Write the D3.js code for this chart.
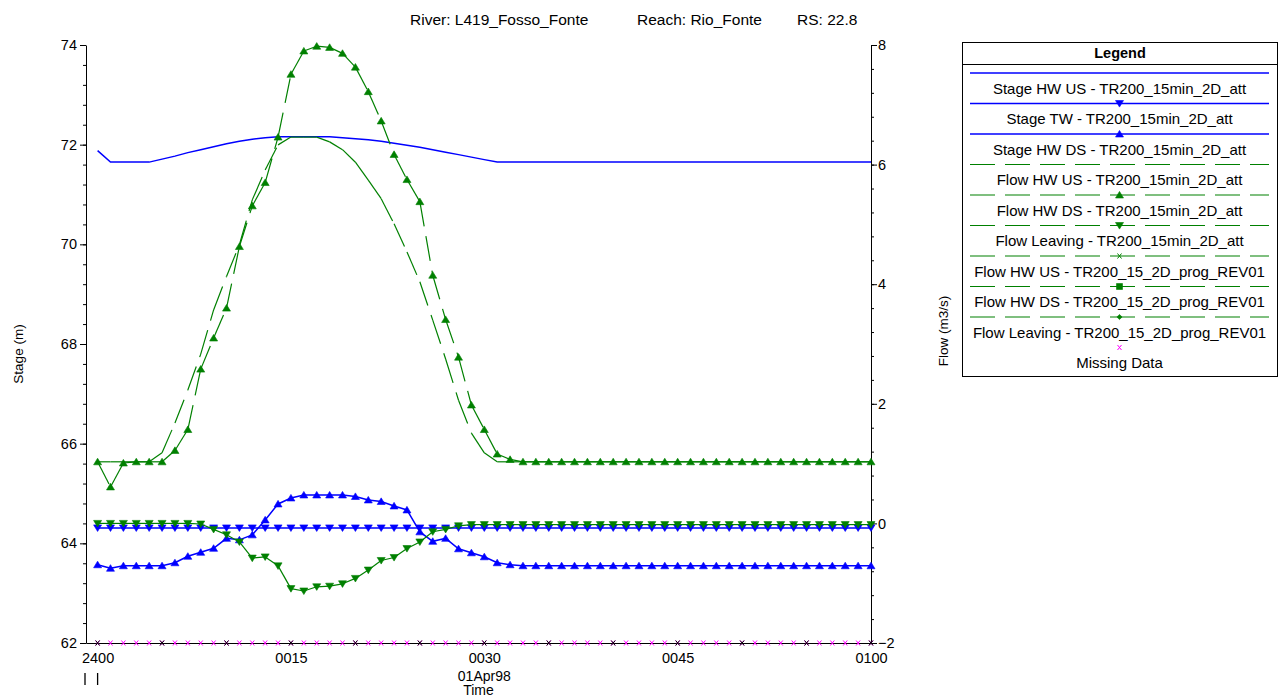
<!DOCTYPE html>
<html><head><meta charset="utf-8">
<script src="https://cdn.jsdelivr.net/npm/d3@7"></script>
<style>
body{margin:0;background:#fff}
svg text{font-family:"Liberation Sans", Arial, sans-serif;fill:#000}
</style>
</head><body>
<svg id="c" width="1282" height="698"></svg>
<script>
// ---------------- DATA ----------------
const minutes = [
  0,1,2,3,4,5,6,7,8,9,
  10,11,12,13,14,15,16,17,18,19,
  20,21,22,23,24,25,26,27,28,29,
  30,31,32,33,34,35,36,37,38,39,
  40,41,42,43,44,45,46,47,48,49,
  50,51,52,53,54,55,56,57,58,59,
  60];
const timeTicks = [0,15,30,45,60];
const timeTickLabels = ["2400","0015","0030","0045","0100"];
const timeMinorTicks = [0,5,10,15,20,25,30,35,40,45,50,55,60];
const stageTicks = [62,64,66,68,70,72,74];
const flowTicks = [-2,0,2,4,6,8];

const stageHWUS = [
  71.88,71.65,71.65,71.65,71.65,71.71,71.77,71.84,71.90,71.96,
  72.02,72.07,72.11,72.14,72.16,72.16,72.16,72.16,72.16,72.14,
  72.12,72.10,72.07,72.03,71.99,71.95,71.90,71.85,71.80,71.75,
  71.70,71.65,71.65,71.65,71.65,71.65,71.65,71.65,71.65,71.65,
  71.65,71.65,71.65,71.65,71.65,71.65,71.65,71.65,71.65,71.65,
  71.65,71.65,71.65,71.65,71.65,71.65,71.65,71.65,71.65,71.65,
  71.65];
const stageTW = [
  64.31,64.31,64.31,64.31,64.31,64.31,64.31,64.31,64.31,64.31,
  64.31,64.31,64.31,64.31,64.31,64.31,64.31,64.31,64.31,64.31,
  64.31,64.31,64.31,64.31,64.31,64.31,64.31,64.31,64.31,64.31,
  64.31,64.31,64.31,64.31,64.31,64.31,64.31,64.31,64.31,64.31,
  64.31,64.31,64.31,64.31,64.31,64.31,64.31,64.31,64.31,64.31,
  64.31,64.31,64.31,64.31,64.31,64.31,64.31,64.31,64.31,64.31,
  64.31];
const stageHWDS = [
  63.57,63.50,63.55,63.55,63.55,63.55,63.61,63.74,63.82,63.90,
  64.10,64.07,64.17,64.47,64.79,64.91,64.97,64.97,64.97,64.97,
  64.94,64.87,64.84,64.75,64.67,64.23,64.04,64.10,63.89,63.81,
  63.73,63.61,63.57,63.55,63.55,63.55,63.55,63.55,63.55,63.55,
  63.55,63.55,63.55,63.55,63.55,63.55,63.55,63.55,63.55,63.55,
  63.55,63.55,63.55,63.55,63.55,63.55,63.55,63.55,63.55,63.55,
  63.55];
const flowHWUSatt = [
  1.03,1.03,1.03,1.03,1.03,1.18,1.68,2.23,2.83,3.57,
  4.13,4.66,5.41,5.91,6.33,6.46,6.46,6.46,6.38,6.25,
  6.04,5.74,5.43,5.01,4.54,4.04,3.40,2.75,2.06,1.51,
  1.18,1.03,1.03,1.03,1.03,1.03,1.03,1.03,1.03,1.03,
  1.03,1.03,1.03,1.03,1.03,1.03,1.03,1.03,1.03,1.03,
  1.03,1.03,1.03,1.03,1.03,1.03,1.03,1.03,1.03,1.03,
  1.03];
const flowHWDSatt = [
  1.03,0.61,1.01,1.03,1.03,1.03,1.22,1.57,2.58,3.10,
  3.60,4.63,5.31,5.70,6.46,7.51,7.90,7.98,7.96,7.86,
  7.63,7.22,6.73,6.17,5.75,5.38,4.15,3.41,2.78,1.98,
  1.57,1.16,1.07,1.03,1.03,1.03,1.03,1.03,1.03,1.03,
  1.03,1.03,1.03,1.03,1.03,1.03,1.03,1.03,1.03,1.03,
  1.03,1.03,1.03,1.03,1.03,1.03,1.03,1.03,1.03,1.03,
  1.03];
const flowLeavingAtt = [
  0.00,0.00,0.00,0.00,0.00,0.00,0.00,0.00,-0.01,-0.10,
  -0.19,-0.31,-0.58,-0.56,-0.71,-1.09,-1.13,-1.06,-1.05,-1.01,
  -0.92,-0.78,-0.62,-0.57,-0.42,-0.31,-0.14,-0.10,-0.04,-0.02,
  -0.02,-0.02,-0.02,-0.02,-0.02,-0.02,-0.02,-0.02,-0.02,-0.02,
  -0.02,-0.02,-0.02,-0.02,-0.02,-0.02,-0.02,-0.02,-0.02,-0.02,
  -0.02,-0.02,-0.02,-0.02,-0.02,-0.02,-0.02,-0.02,-0.02,-0.02,
  -0.02];
// time steps flagged as missing data (drawn at the bottom of the plot)
const missingMinutes = minutes;

const titleParts = ["River: L419_Fosso_Fonte", "Reach: Rio_Fonte", "RS: 22.8"];
const legendLabels = [
  "Stage HW US - TR200_15min_2D_att",
  "Stage TW - TR200_15min_2D_att",
  "Stage HW DS - TR200_15min_2D_att",
  "Flow HW US - TR200_15min_2D_att",
  "Flow HW DS - TR200_15min_2D_att",
  "Flow Leaving - TR200_15min_2D_att",
  "Flow HW US - TR200_15_2D_prog_REV01",
  "Flow HW DS - TR200_15_2D_prog_REV01",
  "Flow Leaving - TR200_15_2D_prog_REV01",
  "Missing Data"];

// ---------------- STYLE ----------------
const BLUE = "#0000ff", GREEN = "#008000", MAGENTA = "#ff00ff";
const DASH = "25,10";
const markerPaths = {
  up: "M0,-3.6L4,3L-4,3Z",
  down: "M0,3.6L4,-3L-4,-3Z",
  square: "M-3,-3H3V3H-3Z",
  diamond: "M0,-2.6L2.6,0L0,2.6L-2.6,0Z",
  x: "M-2,-2.5L2,2.5M2,-2.5L-2,2.5"
};
const legendStyles = [
  {color:BLUE, dash:null, marker:null, w:1.5},
  {color:BLUE, dash:null, marker:"down", w:1.5},
  {color:BLUE, dash:null, marker:"up", w:1.5},
  {color:GREEN, dash:DASH, marker:null, w:1.2},
  {color:GREEN, dash:DASH, marker:"up", w:1.2},
  {color:GREEN, dash:DASH, marker:"down", w:1.2},
  {color:GREEN, dash:DASH, marker:"x", w:1.2},
  {color:GREEN, dash:DASH, marker:"square", w:1.2},
  {color:GREEN, dash:DASH, marker:"diamond", w:1.2},
  {color:MAGENTA, dash:null, marker:"x", w:0, noline:true}
];

// ---------------- CHART ----------------
const svg = d3.select("#c");
const FONT = '"Liberation Sans", Arial, sans-serif';
const x = d3.scaleLinear().domain([-0.9, 60]).range([86, 871]);
const yS = d3.scaleLinear().domain([62, 74]).range([643, 45]);
const yF = d3.scaleLinear().domain([-2, 8]).range([643, 45]);

function styleAxis(g, size){
  g.attr("font-family", FONT).attr("font-size", size);
  g.selectAll("text").attr("fill", "#000");
  g.selectAll("line,path").attr("stroke", "#000");
}

// left axis
const stageMinor = d3.range(62, 74.001, 0.4);
svg.append("g").attr("transform","translate(86,0)")
  .call(d3.axisLeft(yS).tickValues(stageMinor).tickSize(3).tickSizeOuter(0).tickFormat(""))
  .call(g=>g.select(".domain").remove()).call(g=>styleAxis(g,14));
svg.append("g").attr("transform","translate(86,0)")
  .call(d3.axisLeft(yS).tickValues(stageTicks).tickSize(6).tickSizeOuter(0).tickPadding(3).tickFormat(d3.format("d")))
  .call(g=>styleAxis(g,14.5));
// right axis
const flowMinor = d3.range(-2, 8.001, 0.4);
svg.append("g").attr("transform","translate(871,0)")
  .call(d3.axisRight(yF).tickValues(flowMinor).tickSize(3).tickSizeOuter(0).tickFormat(""))
  .call(g=>g.select(".domain").remove()).call(g=>styleAxis(g,14));
svg.append("g").attr("transform","translate(871,0)")
  .call(d3.axisRight(yF).tickValues(flowTicks).tickSize(6).tickSizeOuter(0).tickPadding(1).tickFormat(d3.format("d")))
  .call(g=>styleAxis(g,14.5));
// bottom axis
svg.append("g").attr("transform","translate(0,643)")
  .call(d3.axisBottom(x).tickValues(timeTicks).tickSize(0).tickSizeOuter(0).tickPadding(10).tickFormat((d,i)=>timeTickLabels[i]))
  .call(g=>styleAxis(g,14.5));

// axis titles
svg.append("text").attr("transform","translate(23,354) rotate(-90)")
  .attr("text-anchor","middle").attr("font-size",13.5).text("Stage (m)");
svg.append("text").attr("transform","translate(948,331) rotate(-90)")
  .attr("text-anchor","middle").attr("font-size",13.5).text("Flow (m3/s)");
svg.append("text").attr("x", x(30)).attr("y", 681).attr("text-anchor","middle").attr("font-size",14).text("01Apr98");
svg.append("text").attr("x", (x.range()[0]+x.range()[1])/2).attr("y", 695).attr("text-anchor","middle").attr("font-size",14).text("Time");
// day marks
[x.range()[0]-1, x(0)].forEach(px=>{
  svg.append("line").attr("x1",px).attr("x2",px).attr("y1",673).attr("y2",685).attr("stroke","#000").attr("stroke-width",1.3);
});

// title
svg.append("text").attr("x",410).attr("y",25).attr("font-size",15.5).text(titleParts[0]);
svg.append("text").attr("x",637).attr("y",25).attr("font-size",15.5).text(titleParts[1]);
svg.append("text").attr("x",797).attr("y",25).attr("font-size",15.5).text(titleParts[2]);

// series drawing
const plot = svg.append("g");
function drawSeries(values, yScale, st){
  const pts = minutes.filter((t,i)=>i<values.length).map((t,i)=>[x(t), yScale(values[i])]);
  const g = plot.append("g");
  if(st.dash){
    g.selectAll("line").data(d3.pairs(pts)).join("line")
      .attr("x1",d=>d[0][0]).attr("y1",d=>d[0][1]).attr("x2",d=>d[1][0]).attr("y2",d=>d[1][1])
      .attr("stroke",st.color).attr("stroke-width",st.w).attr("stroke-dasharray",st.dash);
  } else {
    g.append("path").attr("d", d3.line()(pts)).attr("fill","none")
      .attr("stroke",st.color).attr("stroke-width",st.w);
  }
  if(st.marker){
    g.selectAll("path.m").data(pts).join("path").attr("class","m")
      .attr("transform",d=>`translate(${d[0]},${d[1]})`)
      .attr("d",markerPaths[st.marker])
      .attr("fill",st.marker==="x"?"none":st.color)
      .attr("stroke",st.color).attr("stroke-width",st.marker==="x"?1:0.6);
  }
}
drawSeries(stageHWUS, yS, legendStyles[0]);
drawSeries(stageTW, yS, legendStyles[1]);
drawSeries(stageHWDS, yS, legendStyles[2]);
drawSeries(flowHWUSatt, yF, legendStyles[3]);
drawSeries(flowHWDSatt, yF, legendStyles[4]);
drawSeries(flowLeavingAtt, yF, legendStyles[5]);

// missing data markers at the bottom
plot.append("g").selectAll("path").data(missingMinutes).join("path")
  .attr("transform",d=>`translate(${x(d)},${yF(-2)})`)
  .attr("d",markerPaths.x).attr("fill","none").attr("stroke",MAGENTA).attr("stroke-width",1);
// time minor tick crosses
plot.append("g").selectAll("path").data(timeMinorTicks).join("path")
  .attr("transform",d=>`translate(${x(d)},${yF(-2)})`)
  .attr("d",markerPaths.x).attr("fill","none").attr("stroke","#000").attr("stroke-width",1);

// ---------------- LEGEND ----------------
const lg = svg.append("g");
lg.append("rect").attr("x",962.5).attr("y",42.5).attr("width",315).attr("height",334)
  .attr("fill","#fff").attr("stroke","#000").attr("stroke-width",1);
lg.append("line").attr("x1",962.5).attr("x2",1277.5).attr("y1",64.5).attr("y2",64.5).attr("stroke","#000");
lg.append("text").attr("x",1120).attr("y",58).attr("text-anchor","middle").attr("font-size",14.5).attr("font-weight","bold").text("Legend");
const lx0 = 970, lx1 = 1269, lxc = 1119.5;
legendLabels.forEach((lab,i)=>{
  const st = legendStyles[i];
  const yy = 73 + i*30.5;
  if(!st.noline){
    lg.append("line").attr("x1",lx0).attr("x2",lx1).attr("y1",yy).attr("y2",yy)
      .attr("stroke",st.color).attr("stroke-width",st.w).attr("stroke-dasharray",st.dash);
  }
  if(st.marker){
    lg.append("path").attr("transform",`translate(${lxc},${yy})`).attr("d",markerPaths[st.marker])
      .attr("fill",st.marker==="x"?"none":st.color).attr("stroke",st.color).attr("stroke-width",st.marker==="x"?1:0.6);
  }
  lg.append("text").attr("x",lxc).attr("y",yy+20.5).attr("text-anchor","middle").attr("font-size",15).text(lab);
});
</script>
</body></html>
